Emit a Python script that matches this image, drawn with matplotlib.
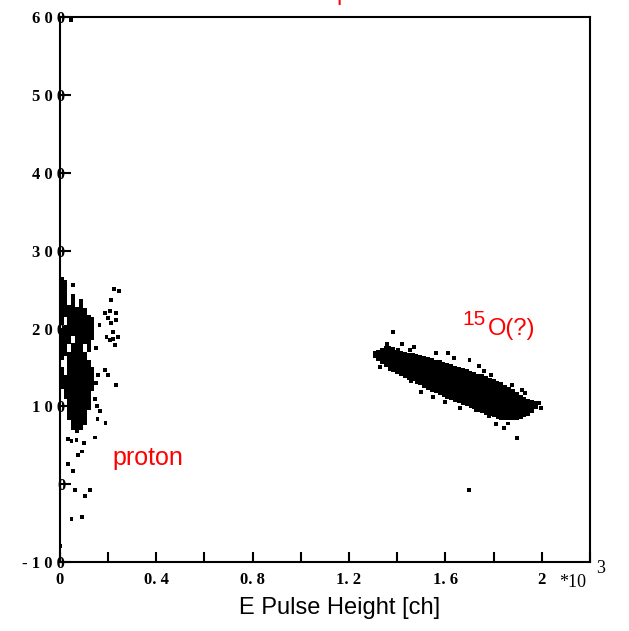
import numpy as np
import matplotlib.pyplot as plt

# ─── DATA (E in units of 10^3 ch, dE in ch) ─────────────────────────────
bin_w = 0.016   # E bin width
bin_h = 5       # dE bin height

# proton band: dense column segments (E centre, dE low, dE high)
p_seg_x  = [0.008, 0.008, 0.008, 0.024, 0.024, 0.024, 0.040, 0.040, 0.056, 0.056,
            0.072, 0.088, 0.104, 0.104, 0.120, 0.120, 0.136, 0.136]
p_seg_lo = [205, 160, 122, 215, 165, 110, 180, 82, 190, 70,
            66, 70, 76, 180, 95, 170, 185, 120]
p_seg_hi = [266, 198, 150, 262, 205, 140, 230, 170, 245, 182,
            228, 238, 170, 226, 160, 218, 215, 150]

# proton band: single cells
p_pts_x = [0.225, 0.214, 0.207, 0.187, 0.235, 0.235, 0.214, 0.200, 0.242, 0.221,
           0.207, 0.228, 0.194, 0.187, 0.200, 0.235, 0.056, 0.033, 0.049, 0.070,
           0.101, 0.146, 0.091, 0.077, 0.035, 0.056, 0.125, 0.063, 0.104, 0.049,
           0.093, 0.190, 0.166, 0.157, 0.003, 0.047, 0.150, 0.165, 0.245, 0.220,
           0.152, 0.160, 0.145, 0.155]
p_pts_y = [251, 237, 222, 220, 220, 211, 207, 213, 189, 187,
           185, 179, 189, 147, 140, 127, 256, 58, 55, 57,
           53, 60, 42, 37, 26, 17, -7, -8, -15, -45,
           -42, 79, 94, 84, -79, 597, 130, 205, 248, 195,
           175, 140, 110, 100]

# 15O band: dense column segments
o_seg_x  = [1.320, 1.336, 1.352, 1.368, 1.384, 1.400, 1.416, 1.432, 1.448, 1.464,
            1.480, 1.496, 1.512, 1.528, 1.544, 1.560, 1.576, 1.592, 1.608, 1.624,
            1.640, 1.656, 1.672, 1.688, 1.704, 1.720, 1.736, 1.752, 1.768, 1.784,
            1.800, 1.816, 1.832, 1.848, 1.864, 1.880, 1.896, 1.912, 1.928, 1.944,
            1.960, 1.976]
o_seg_lo = [158, 154, 150, 146, 144, 141, 139, 137, 134, 132,
            129, 127, 124, 121, 119, 117, 115, 112, 110, 108,
            106, 104, 102, 100, 98, 96, 93, 91, 89, 87,
            86, 84, 83, 82, 82, 82, 83, 84, 86, 88,
            92, 96]
o_seg_hi = [172, 175, 178, 178, 176, 173, 171, 170, 169, 168,
            167, 166, 165, 164, 162, 160, 159, 157, 156, 154,
            152, 151, 149, 148, 146, 144, 142, 141, 139, 137,
            135, 133, 131, 128, 125, 122, 118, 115, 112, 110,
            108, 107]

# 15O band: single cells
o_pts_x = [1.383, 1.306, 1.306, 1.328, 1.359, 1.362, 1.369, 1.403, 1.452, 1.458,
           1.513, 1.561, 1.610, 1.637, 1.726, 1.781, 1.836, 1.843, 1.898, 1.761,
           1.788, 1.878, 1.919, 1.953, 1.988, 1.885, 1.698, 1.330, 1.420, 1.470,
           1.500, 1.550, 1.600, 1.660, 1.700, 1.740, 1.810, 1.860, 1.930, 1.996]
o_pts_y = [195, 168, 164, 170, 180, 162, 149, 172, 172, 133,
           127, 168, 168, 162, 95, 87, 86, 72, 59, 145,
           140, 127, 121, 97, 104, 100, -8, 150, 180, 176,
           118, 112, 106, 98, 160, 152, 77, 78, 117, 98]

x_ticks  = [0, 0.4, 0.8, 1.2, 1.6, 2.0]
x_labels = ['0', '0. 4', '0. 8', '1. 2', '1. 6', '2']
x_minor  = [0.2, 0.6, 1.0, 1.4, 1.8, 2.2]
y_ticks  = [-100, 0, 100, 200, 300, 400, 500, 600]
y_labels = ['- 1 0 0', '0', '1 0 0', '2 0 0', '3 0 0', '4 0 0', '5 0 0', '6 0 0']

# ─── PLOT ───────────────────────────────────────────────────────────────
fig = plt.figure(figsize=(6.29, 6.31), dpi=100)
ax = fig.add_axes([0.0949, 0.1094, 0.8431, 0.8632])

p_h = np.array(p_seg_hi) - np.array(p_seg_lo)
o_h = np.array(o_seg_hi) - np.array(o_seg_lo)
ax.bar(p_seg_x, p_h, bottom=p_seg_lo, width=bin_w, color='black', linewidth=0)
ax.bar(o_seg_x, o_h, bottom=o_seg_lo, width=bin_w, color='black', linewidth=0)
ax.bar(p_pts_x, bin_h, bottom=np.array(p_pts_y) - bin_h / 2, width=bin_w,
       color='black', linewidth=0)
ax.bar(o_pts_x, bin_h, bottom=np.array(o_pts_y) - bin_h / 2, width=bin_w,
       color='black', linewidth=0)

ax.set_xlim(0, 2.2)
ax.set_ylim(-100, 600)

tick_font = dict(family='Liberation Serif', size=12, weight='bold')
ax.set_xticks(x_ticks)
ax.set_xticklabels(x_labels, fontdict=tick_font)
ax.set_xticks(x_minor, minor=True)
ax.set_yticks(y_ticks)
ax.set_yticklabels(y_labels, fontdict=tick_font)
ax.tick_params(axis='x', which='both', direction='in', length=7, width=1.5, pad=7)
ax.tick_params(axis='y', direction='in', length=8, width=1.5, pad=-4)
for s in ax.spines.values():
    s.set_linewidth(1.5)

ax.text(0.942, -0.038, '*10', transform=ax.transAxes, family='Liberation Serif',
        fontsize=13, va='center', ha='left')
ax.text(1.012, -0.012, '3', transform=ax.transAxes, family='Liberation Serif',
        fontsize=13, va='center', ha='left')

ax.set_xlabel('E Pulse Height [ch]', family='Liberation Sans', fontsize=17)
ax.xaxis.set_label_coords(0.528, -0.064)

ax.text(0.22, 25, 'proton', color='red', family='Liberation Sans', fontsize=18)
ax.text(1.671, 204, '15', color='red', family='Liberation Sans', fontsize=15)
ax.text(1.775, 192, 'O(?)', color='red', family='Liberation Sans', fontsize=17)

fig.text(343 / 629, 1.0, 'p', color='red', family='Liberation Sans', fontsize=17,
         ha='center', va='baseline')

plt.savefig('out.png', dpi=100)
